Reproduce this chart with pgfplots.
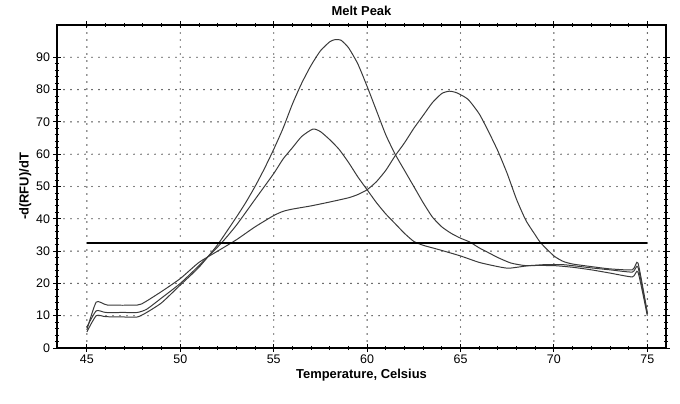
\documentclass[border=0pt]{standalone}
\usepackage{pgfplots}
\pgfplotsset{compat=1.18}
\usepackage{fontspec}
\setmainfont{Liberation Sans}

\definecolor{curve}{HTML}{3A3A3A}

\begin{document}
\begin{tikzpicture}
\path[use as bounding box] (-57bp,-56bp) rectangle (623bp,348bp);
\begin{axis}[
  scale only axis,
  width=609bp, height=323bp,
  xmin=43.4, xmax=76, ymin=0, ymax=100,
  xtick={45,50,...,75}, ytick={0,10,...,90},
  minor x tick num=4, minor y tick num=4,
  tick align=center,
  major tick length=7bp, minor tick length=4bp,
  every tick/.style={black, line width=0.9pt},
  axis line style={black, line width=1.1pt},
  grid=major,
  major grid style={black, line width=1.4pt, dash pattern=on 0pt off 7bp, line cap=round},
  ticklabel style={font=\fontsize{12.5}{14}\selectfont},
  /pgf/number format/assume math mode=true,
  title={\bfseries Melt Peak},
  title style={font=\fontsize{13}{15}\selectfont, yshift=0bp},
  xlabel={\bfseries Temperature, Celsius},
  ylabel={\bfseries -d(RFU)/dT},
  label style={font=\fontsize{13}{15}\selectfont},
  xlabel style={yshift=2bp},
  ylabel style={yshift=-2bp},
  clip=false,
  every axis plot/.append style={smooth, tension=0.35},
]
\addplot[curve, line width=1pt] coordinates {
(45,5.0) (45.5,10.0) (46,9.7) (47,9.6) (47.7,9.6) (48.2,11.0) (49,14.0) (50,19.5)
(51,25.0) (52,32.0) (53,40.5) (53.5,45.0) (54,50.0) (54.5,55.5) (55,61.5) (55.5,68) (56,75.5) (56.5,82)
(57,87.5) (57.5,92) (58,94.8) (58.3,95.5) (58.6,95.3) (59,93) (59.5,88) (60,81)
(60.5,73.5) (61,66) (61.5,60) (62,55) (62.5,50) (63,45) (63.5,40.5) (64,37.5)
(64.5,35.5) (65,34) (65.5,32.8) (66,31) (66.5,29.5) (67,28) (67.7,26.3) (68.5,25.5)
(69.5,25.8) (70.5,25.8) (72,24.8) (73,24.2) (74.2,23.5) (74.5,25.0) (75,10.5)
};
\addplot[curve, line width=1pt] coordinates {
(45,6.5) (45.5,11.5) (46,11.0) (47,11.0) (47.7,11.0) (48.2,12.0) (49,15.5) (50,20.0)
(51,25.5) (52.2,32.5) (53,38.0) (54,46.0) (55,54.0) (55.5,58.5) (56,62.0) (56.5,65.5)
(57.1,67.8) (57.5,67.0) (58,64.5) (58.5,61.5) (59,57.5) (59.5,53) (60,49.0) (60.5,45)
(61,41.5) (61.5,38.5) (62,35.5) (62.5,33) (63,31.8) (63.5,31) (64,30.2) (65,28.5)
(66,26.5) (67,25.2) (67.6,24.7) (68.7,25.5) (70,25.5) (71,25.0) (72,24.2) (73,23.2)
(74.2,22.0) (74.5,23.5) (75,10.0)
};
\addplot[curve, line width=1pt] coordinates {
(45,5.6) (45.5,14.2) (46.1,13.3) (47.7,13.3) (48.1,14.2) (49,17.5) (50,21.5) (51,26.5)
(52,30.0) (53,33.5) (54,37.5) (55,41.0) (55.5,42.3) (56,43.0) (57,44.0) (58,45.2)
(59,46.5) (59.5,47.5) (60,49.0) (60.5,51.5) (61,55.0) (61.5,59.5) (62,63.5) (62.5,68)
(63,72) (63.5,76) (64,78.8) (64.4,79.5) (64.8,79.0) (65.4,77.0) (66,72.5) (66.5,67)
(67,61) (67.5,54) (68,46) (68.5,39.5) (69,35) (69.3,32.5) (70,28.5) (70.5,26.8)
(71,26.0) (72,25.2) (73,24.5) (74.2,24.2) (74.5,26.3) (75,11)
};
\addplot[black, line width=2.2pt, sharp plot] coordinates {(45,32.5) (75,32.5)};
\end{axis}
\end{tikzpicture}
\end{document}
